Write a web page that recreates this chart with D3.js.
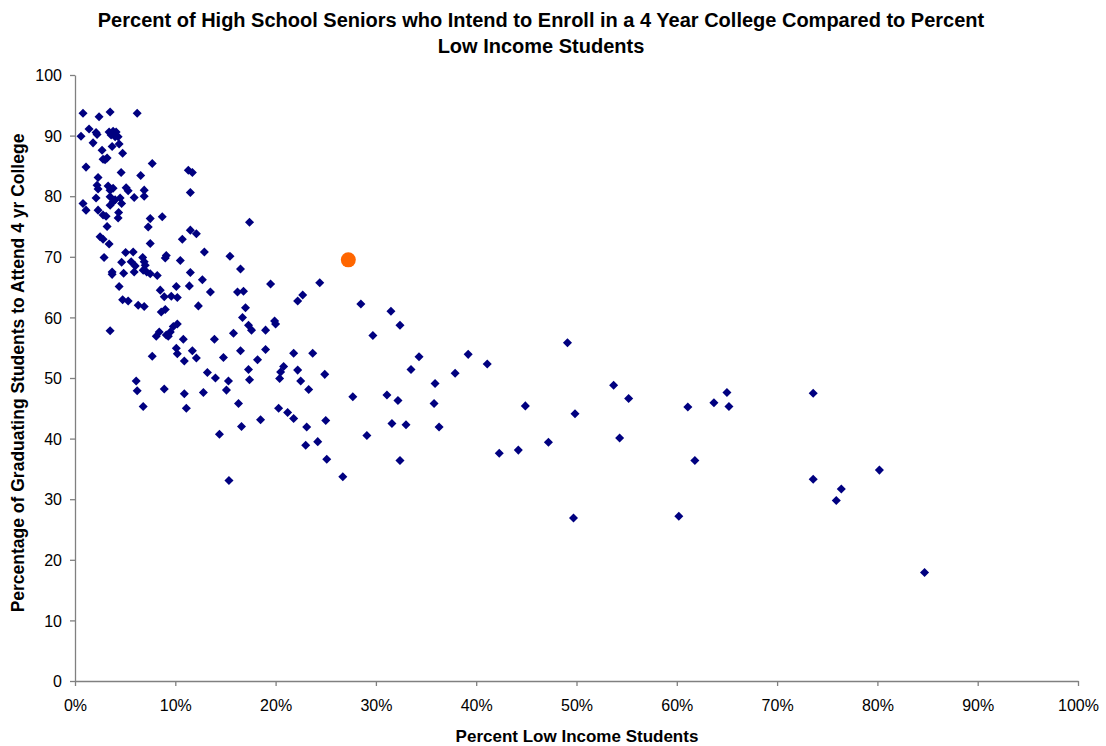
<!DOCTYPE html>
<html><head><meta charset="utf-8">
<script src="https://cdn.jsdelivr.net/npm/d3@7"></script>
<style>body{margin:0;background:#fff;} text{font-family:"Liberation Sans",Arial,sans-serif;}</style>
</head><body><svg id="c" width="1106" height="746"></svg>
<script>
const titleLines = ["Percent of High School Seniors who Intend to Enroll in a 4 Year College Compared to Percent","Low Income Students"];
const xLabel = "Percent Low Income Students";
const yLabel = "Percentage of Graduating Students to Attend 4 yr College";
const xTicks = [0,10,20,30,40,50,60,70,80,90,100];
const yTicks = [0,10,20,30,40,50,60,70,80,90,100];
const lowIncomePct = [0.6,0.8,0.8,1.1,1.1,1.4,1.8,2.1,2.2,2.1,2.3,2.2,2.3,2.3,2.4,2.5,2.7,2.8,2.8,2.8,2.9,3.0,3.1,3.2,3.2,3.3,3.4,3.4,3.5,3.5,3.5,3.5,3.5,3.6,3.7,3.7,3.7,3.8,3.8,3.8,4.0,4.0,4.1,4.3,4.35,4.3,4.4,4.4,4.5,4.6,4.65,4.65,4.75,4.75,4.85,5.05,5.1,5.3,5.3,5.6,5.8,5.9,5.9,6.0,6.1,6.2,6.2,6.3,6.55,6.75,6.8,6.8,6.9,6.9,6.9,6.9,7.0,7.15,7.3,7.5,7.5,7.5,7.7,7.7,8.1,8.2,8.4,8.5,8.6,8.7,8.9,8.9,9.0,9.0,9.1,9.1,9.3,9.5,9.6,9.8,10.1,10.1,10.2,10.2,10.2,10.5,10.7,10.8,10.9,10.9,11.1,11.3,11.4,11.5,11.5,11.5,11.7,11.7,12.1,12.1,12.3,12.7,12.8,12.9,13.2,13.5,13.9,14.0,14.4,14.8,15.1,15.3,15.35,15.45,15.8,16.2,16.3,16.5,16.5,16.6,16.7,16.8,17.0,17.3,17.3,17.4,17.4,17.6,18.2,18.5,19.0,19.0,19.5,19.9,20.0,20.3,20.4,20.5,20.8,21.2,21.8,21.8,22.2,22.2,22.5,22.7,23.0,23.1,23.3,23.7,24.2,24.4,24.9,25.0,25.1,26.7,27.7,28.5,29.1,29.7,31.1,31.5,31.6,32.2,32.4,32.4,33.0,33.5,34.3,35.8,35.9,36.3,37.9,39.2,41.1,42.3,44.2,44.9,47.2,49.1,49.7,49.85,53.7,54.3,55.2,60.2,61.1,61.8,63.7,65.0,65.2,73.6,73.6,75.9,76.4,80.2,84.7];
const attendPct = [89.9,93.7,78.8,84.8,77.7,91.1,88.8,90.5,90.2,79.7,83.1,81.8,81.2,77.7,93.1,73.3,87.6,86.1,76.9,72.9,69.9,86.0,76.7,86.3,75.0,81.7,90.6,72.1,93.9,81.0,79.9,78.5,57.8,90.1,88.2,67.5,67.1,90.7,81.3,79.1,89.8,79.4,90.6,89.8,77.3,76.4,88.6,65.1,79.7,83.9,78.8,69.1,87.1,62.9,67.3,70.7,81.4,80.9,62.7,69.2,70.8,79.8,67.5,68.5,49.5,93.7,47.9,62.0,83.4,69.9,67.8,45.3,81.0,80.0,69.2,61.8,68.6,67.5,74.9,76.3,72.2,67.2,85.4,53.6,56.9,66.9,57.6,64.5,60.9,76.6,63.4,48.2,61.3,69.8,70.2,57.1,56.9,57.6,63.5,58.5,65.1,54.9,63.3,58.9,54.0,69.4,72.9,56.4,52.8,47.4,45.0,84.3,65.2,80.6,74.4,67.4,83.9,54.5,73.8,53.3,61.9,66.2,47.6,70.8,50.9,64.2,56.4,50.0,40.7,53.4,48.0,49.5,33.1,70.1,57.4,64.2,45.8,68.0,54.5,42.0,60.0,64.3,61.6,51.4,58.7,49.7,75.7,57.9,53.0,43.1,57.9,54.7,65.5,59.4,58.9,45.0,49.9,51.0,51.9,44.3,43.3,54.1,51.3,62.7,49.5,63.7,38.9,41.9,48.1,54.1,39.5,65.7,50.6,43.0,36.6,33.7,46.9,62.2,40.5,57.0,47.2,61.0,42.5,46.3,58.7,36.4,42.3,51.4,53.5,45.8,49.1,41.9,50.8,53.9,52.3,37.6,38.1,45.4,39.4,55.8,26.9,44.1,48.8,40.1,46.6,27.2,45.2,36.4,45.9,47.6,45.3,47.5,33.3,29.8,31.7,34.8,17.9];
const highlightX = [27.25];
const highlightY = [69.5];

const svg = d3.select("#c");
const L = 75, R = 1078, T = 75, B = 681;
const x = d3.scaleLinear().domain([0,100]).range([L,R]);
const y = d3.scaleLinear().domain([0,100]).range([B,T]);

// title
svg.append("text").attr("text-anchor","middle")
  .style("font-weight","bold").style("font-size","20px").attr("fill","#000")
  .selectAll("tspan").data(titleLines).join("tspan")
  .attr("x",541).attr("y",(d,i)=>27+i*25.5).text(d=>d);

// axes
const xa = svg.append("g").attr("transform",`translate(0,${B})`)
  .call(d3.axisBottom(x).tickValues(xTicks).tickFormat(d=>d+"%").tickSize(5).tickSizeOuter(0));
const ya = svg.append("g").attr("transform",`translate(${L},0)`)
  .call(d3.axisLeft(y).tickValues(yTicks).tickSize(5).tickSizeOuter(0));
[xa,ya].forEach(g=>{
  g.select(".domain").attr("stroke","#808080").attr("stroke-width",1.3);
  g.selectAll(".tick line").attr("stroke","#808080").attr("stroke-width",1.3);
  g.selectAll(".tick text").style("font-size","16px").attr("fill","#000")
    .style("font-family","'Liberation Sans',Arial,sans-serif");
});
xa.selectAll(".tick text").attr("dy","0").attr("y",30);
ya.selectAll(".tick text").attr("x",-13).attr("dy","0.35em");

// axis labels
svg.append("text").attr("x",577).attr("y",742).attr("text-anchor","middle")
  .style("font-weight","bold").style("font-size","17px").text(xLabel);
svg.append("text").attr("transform","translate(24,373) rotate(-90)").attr("text-anchor","middle")
  .style("font-weight","bold").style("font-size","17.5px").text(yLabel);

// points
const pts = lowIncomePct.map((v,i)=>({x:v,y:attendPct[i]}));
const diamond = d3.symbol().type(d3.symbolDiamond2).size(52);
svg.append("g").selectAll("path").data(pts).join("path")
  .attr("d",diamond)
  .attr("transform",d=>`translate(${x(d.x)},${y(d.y)})`)
  .attr("fill","#000080");
svg.append("g").selectAll("circle").data(highlightX.map((v,i)=>({x:v,y:highlightY[i]}))).join("circle")
  .attr("cx",d=>x(d.x)).attr("cy",d=>y(d.y)).attr("r",7.5)
  .attr("fill","#FF6600");
</script></body></html>
